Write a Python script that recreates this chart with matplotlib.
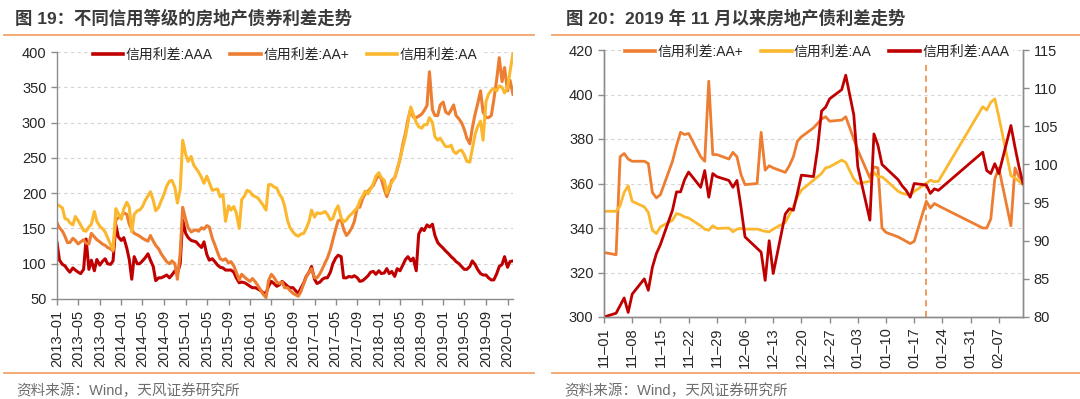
import numpy as np
import pandas as pd
import matplotlib
matplotlib.use('Agg')
import matplotlib.pyplot as plt
import matplotlib.dates as mdates
from matplotlib.lines import Line2D

plt.rcParams['font.family'] = ['Liberation Sans', 'Noto Sans CJK SC']

colorAAA = '#C00000'
colorAAp = '#ED7D31'
colorAA = '#FBB82E'
sepOrange = '#F2A46B'
spineGray = '#8c8c8c'
gridGray = '#d4d4d4'
tickText = '#262626'

# fig 19: semi-monthly spreads 2013-01 .. 2020-02 (bp)
spreadDates = pd.date_range('2013-01-01', '2020-02-01', freq='SMS')
aaaSpread = [
    130, 105, 99, 97, 92, 88, 94, 91, 88, 86, 92, 135, 92, 105, 90, 106, 98, 103, 107, 100, 99, 104, 155, 138,
    133, 137, 122, 106, 78, 110, 100, 100, 104, 108, 114, 105, 96, 76, 80, 80, 82, 84, 80, 84, 90, 86, 100, 162,
    143, 137, 133, 132, 131, 127, 123, 131, 113, 105, 107, 103, 98, 95, 94, 91, 91, 91, 88, 80, 73, 74, 73, 71,
    68, 66, 66, 64, 62, 59, 58, 68, 75, 72, 68, 70, 75, 72, 68, 66, 66, 62, 58, 65, 73, 82, 88, 96,
    78, 72, 74, 78, 80, 80, 88, 100, 108, 112, 110, 80, 80, 82, 81, 83, 80, 75, 76, 79, 83, 88, 89, 85,
    90, 86, 87, 93, 86, 89, 82, 93, 90, 97, 106, 110, 104, 108, 90, 142, 150, 147, 155, 152, 156, 140, 130, 126,
    122, 118, 114, 110, 107, 103, 100, 96, 92, 92, 96, 104, 99, 92, 86, 84, 84, 80, 77, 77, 86, 96, 99, 110,
    95, 103, 104]
aapSpread = [
    158, 151, 146, 139, 130, 130, 136, 133, 128, 131, 134, 129, 128, 143, 138, 134, 131, 128, 126, 123, 121, 118, 162, 165,
    168, 172, 170, 156, 148, 143, 141, 139, 136, 134, 132, 140, 132, 126, 121, 114, 108, 103, 100, 104, 100, 78, 115, 180,
    163, 151, 145, 147, 148, 146, 151, 149, 154, 152, 136, 127, 116, 107, 105, 107, 101, 103, 97, 88, 77, 85, 81, 78,
    75, 79, 74, 69, 63, 57, 52, 76, 85, 81, 74, 72, 74, 66, 66, 62, 58, 56, 54, 60, 72, 81, 88, 93,
    80, 80, 86, 93, 101, 108, 120, 134, 149, 161, 162, 149, 140, 144, 151, 160, 180, 180, 192, 199, 203, 207, 211, 219,
    226, 220, 205, 195, 205, 218, 222, 233, 248, 267, 285, 304, 320, 308, 307, 309, 312, 317, 324, 372, 318, 310, 310, 325,
    329, 315, 312, 318, 325, 310, 305, 300, 290, 278, 270, 292, 312, 326, 345, 315, 307, 307, 310, 332, 362, 392, 358, 378,
    345, 360, 340]
aaSpread = [
    184, 182, 179, 164, 163, 158, 155, 167, 161, 155, 147, 146, 152, 156, 174, 160, 153, 150, 145, 137, 127, 120, 178, 171,
    163, 178, 187, 180, 145, 170, 175, 176, 181, 189, 196, 202, 190, 175, 180, 189, 199, 210, 217, 218, 208, 186, 205, 275,
    255, 245, 252, 240, 235, 230, 222, 214, 224, 215, 204, 205, 206, 195, 198, 160, 182, 176, 181, 172, 150, 191, 196, 204,
    202, 197, 195, 193, 188, 183, 176, 212, 212, 209, 207, 199, 193, 182, 161, 151, 145, 141, 139, 142, 143, 150, 160, 176,
    166, 172, 171, 172, 174, 170, 162, 164, 176, 182, 165, 159, 162, 167, 171, 175, 179, 189, 196, 203, 199, 206, 214, 224,
    229, 222, 218, 200, 210, 215, 222, 235, 248, 263, 280, 300, 322, 312, 300, 294, 292, 297, 297, 307, 300, 280, 275, 278,
    271, 266, 266, 268, 259, 256, 260, 261, 254, 245, 244, 262, 283, 294, 302, 275, 330, 340, 346, 348, 345, 352, 350, 342,
    349, 372, 398]

# fig 20: trading days since 2019-11-01
holidays = ['2020-01-01', '2020-01-24', '2020-01-27', '2020-01-28', '2020-01-29', '2020-01-30', '2020-01-31']
recentDates = pd.bdate_range('2019-11-01', '2020-02-13').drop(pd.to_datetime(holidays))
recentAAp = [
    329, 328, 372, 373.5, 371, 370, 370, 369, 356, 353.5, 355, 370, 377, 383, 382, 382.5, 372, 370, 406, 373, 373,
    371, 374, 372, 364, 359.5, 360, 383, 366, 368, 367, 365, 368, 372, 379, 381, 385, 387, 389, 390, 388, 388.5, 390,
    380, 375, 362.5, 367.5, 367, 340, 338, 336, 335, 334, 333, 334, 352, 349, 351, 350,
    340, 340, 344, 362, 367, 341, 367, 363, 361]
recentAA = [
    347.5, 347.5, 350, 356, 359, 352, 349.5, 347, 339, 337.5, 340.5, 343.5, 346.5, 346, 345, 344.5, 341, 339.5, 339, 341, 339.8,
    340, 338.3, 339.5, 339.8, 339.5, 339.5, 339, 338.5, 338.3, 339.5, 342.5, 346, 349.5, 354, 357, 361.5, 363, 364.5, 367, 367.5, 370.5, 369.5,
    362, 360, 361, 365, 363, 363, 361.5, 356.5, 355.6, 355.2, 354.8, 356.5, 360, 361.5, 360.8, 361,
    394.5, 393, 396.5, 398, 390, 363.5, 362.5, 361, 359.5]
recentAAA = [
    80, 80.5, 81.5, 82.5, 80.6, 83, 85, 83.5, 86.5, 88.3, 89.5, 94, 96.4, 96.4, 98, 99, 97, 99.2, 95.7, 98.8, 98.4,
    97.9, 97, 97.9, 94.4, 90.5, 89, 88.5, 84.8, 90, 85.7, 93.5, 94.2, 94, 96.2, 98.6, 98.4, 102, 107, 107.5, 108.6, 109.8, 111.7,
    106.5, 99.7, 92.7, 104, 102.5, 100, 99.5, 98, 97.2, 96.6, 95.7, 97.5, 97.3, 96.2, 96.8, 96.6,
    101.6, 99.2, 98.8, 100.1, 98.8, 105.1, 102.3, 99.7, 97.5]
cutDate = '2020-01-20'

leftTitle = '图 19：不同信用等级的房地产债券利差走势'
rightTitle = '图 20：2019 年 11 月以来房地产债利差走势'
source = '资料来源：Wind，天风证券研究所'
labelAAA = '信用利差:AAA'
labelAAp = '信用利差:AA+'
labelAA = '信用利差:AA'


def styleAxis(ax, spines):
    for name in ['top', 'bottom', 'left', 'right']:
        if name in spines:
            ax.spines[name].set_color(spineGray)
            ax.spines[name].set_linewidth(1)
        else:
            ax.spines[name].set_visible(False)
    ax.tick_params(axis='both', direction='out', length=4, width=1, color=spineGray,
                   labelsize=10.5, labelcolor=tickText)


def addGrid(ax):
    ax.yaxis.grid(True, linestyle=(0, (3, 3)), color=gridGray, linewidth=0.8)
    ax.set_axisbelow(True)


def addLegend(ax, handles, labels, xCenter, yCenter):
    leg = ax.legend(handles, labels, loc='center', bbox_to_anchor=(xCenter, yCenter), ncol=3,
                    fontsize=10, handlelength=2.2, handletextpad=0.15, columnspacing=1.3,
                    frameon=True, facecolor='white', edgecolor='white', framealpha=1,
                    borderpad=0.2, fancybox=False)
    for text in leg.get_texts():
        text.set_color(tickText)
    return leg


def decorateFigure(fig):
    fig.text(15 / 1080, 1 - 18 / 399, leftTitle, fontsize=12.5, fontweight='bold', color='#3a3a3a', va='center')
    fig.text(566 / 1080, 1 - 18 / 399, rightTitle, fontsize=12.5, fontweight='bold', color='#3a3a3a', va='center')
    for x0, x1 in [(4, 534), (552, 1080)]:
        for y in [35, 372.5]:
            fig.add_artist(Line2D([x0 / 1080, x1 / 1080], [1 - y / 399, 1 - y / 399],
                                  color=sepOrange, linewidth=1.3, transform=fig.transFigure))
    fig.text(16 / 1080, 1 - 391 / 399, source, fontsize=10.5, color='#6e6e6e', va='center')
    fig.text(564 / 1080, 1 - 391 / 399, source, fontsize=10.5, color='#6e6e6e', va='center')


def drawLeft(fig):
    ax = fig.add_axes([57 / 1080, 1 - 299 / 399, 456 / 1080, 247 / 399])
    styleAxis(ax, ['left', 'bottom'])
    addGrid(ax)

    hAAA, = ax.plot(spreadDates, aaaSpread, color=colorAAA, linewidth=2.2)
    hAAp, = ax.plot(spreadDates, aapSpread, color=colorAAp, linewidth=2.2)
    hAA, = ax.plot(spreadDates, aaSpread, color=colorAA, linewidth=2.2)

    ax.set_ylim(50, 400)
    ax.set_yticks(np.arange(50, 401, 50))
    ax.set_xlim(spreadDates[0], spreadDates[-1])
    tickDates = pd.date_range('2013-01-01', '2020-01-01', freq='4MS')
    ax.set_xticks(tickDates)
    ax.set_xticklabels([d.strftime('%Y–%m') for d in tickDates], rotation=90)

    legend = addLegend(ax, [hAAA, hAAp, hAA], [labelAAA, labelAAp, labelAA], 0.5, 0.988)
    for line in legend.get_lines():
        line.set_linewidth(2.6)


def drawRight(fig):
    ax = fig.add_axes([604 / 1080, 1 - 317 / 399, 419 / 1080, 267 / 399])
    styleAxis(ax, ['left', 'bottom', 'right'])
    addGrid(ax)
    ax2 = ax.twinx()
    styleAxis(ax2, ['left', 'bottom', 'right'])

    hAAp, = ax.plot(recentDates, recentAAp, color=colorAAp, linewidth=2)
    hAA, = ax.plot(recentDates, recentAA, color=colorAA, linewidth=2)
    hAAA, = ax2.plot(recentDates, recentAAA, color=colorAAA, linewidth=2)
    ax.axvline(pd.Timestamp(cutDate), color=colorAAp, linestyle=(0, (4, 3)), linewidth=1.1)

    ax.set_ylim(300, 420)
    ax.set_yticks(np.arange(300, 421, 20))
    ax2.set_ylim(80, 115)
    ax2.set_yticks(np.arange(80, 116, 5))
    ax.set_xlim(pd.Timestamp('2019-11-01'), pd.Timestamp('2020-02-13'))
    tickDates = pd.date_range('2019-11-01', '2020-02-07', freq='7D')
    ax.set_xticks(tickDates)
    ax.set_xticklabels([d.strftime('%m–%d') for d in tickDates], rotation=90)

    legend = addLegend(ax2, [hAAp, hAA, hAAA], [labelAAp, labelAA, labelAAA], 0.508, 0.992)
    for line in legend.get_lines():
        line.set_linewidth(2.6)


fig = plt.figure(figsize=(10.8, 3.99), dpi=100)
drawLeft(fig)
drawRight(fig)
decorateFigure(fig)
fig.savefig('out.png', dpi=100)
